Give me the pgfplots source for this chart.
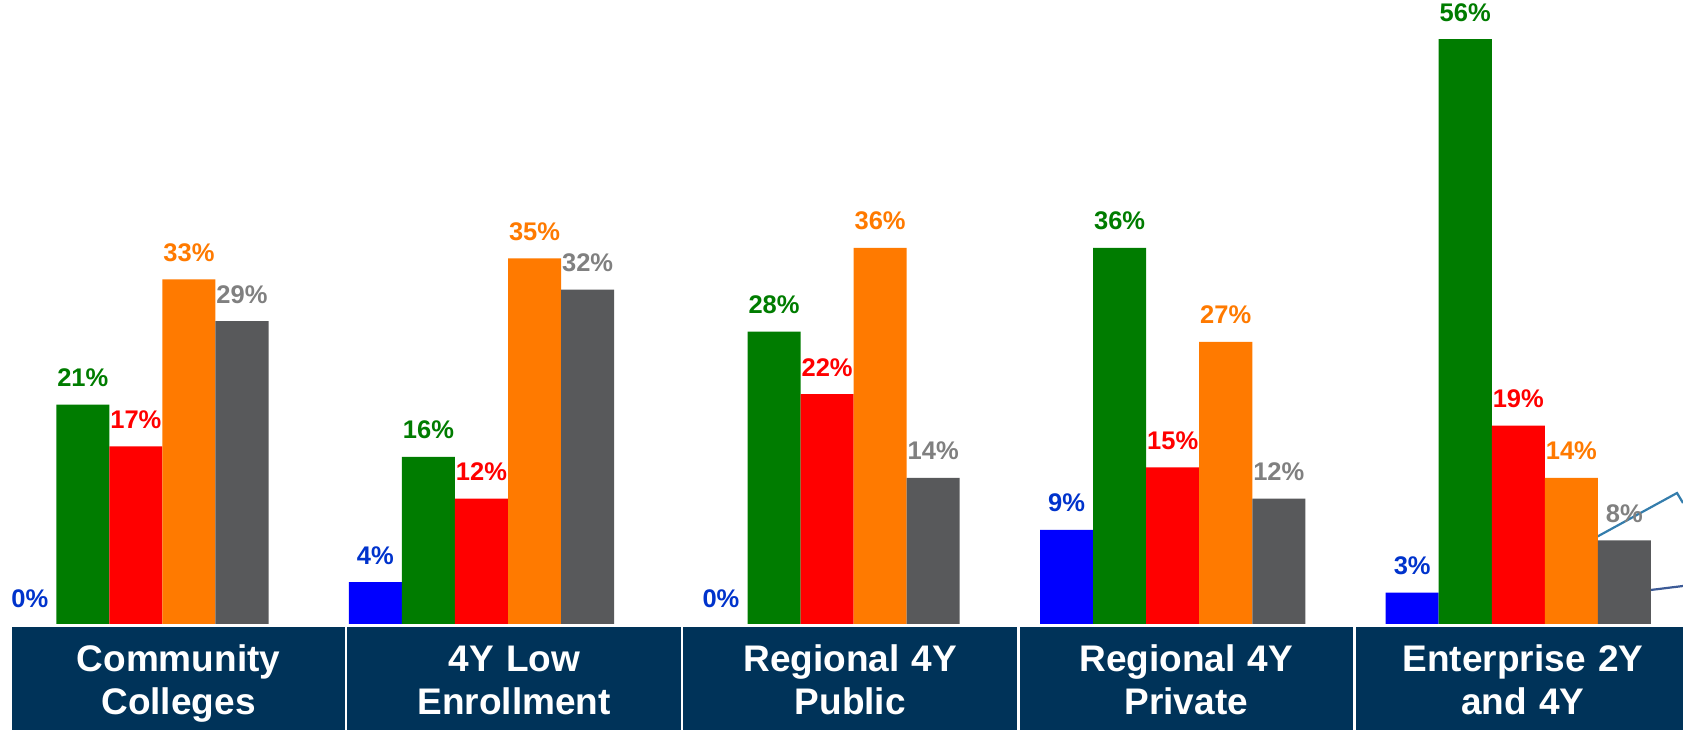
\documentclass[border=0pt]{standalone}
\usepackage{fontspec}
\setmainfont{Liberation Sans}
\usepackage{pgfplots}
\pgfplotsset{compat=1.18}
\definecolor{cblue}{RGB}{0,0,255}
\definecolor{cgreen}{RGB}{0,124,0}
\definecolor{cred}{RGB}{255,0,0}
\definecolor{corange}{RGB}{255,122,0}
\definecolor{cgray}{RGB}{88,89,91}
\definecolor{lblue}{RGB}{0,51,204}
\definecolor{lgray}{RGB}{128,128,128}
\definecolor{navy}{RGB}{0,51,89}
\definecolor{steel}{RGB}{52,125,172}
\definecolor{dkline}{RGB}{60,90,150}
\newcommand\Ta{\rule{0pt}{44pt}}
\newcommand\Tb{\rule[-16pt]{0pt}{16pt}}
\begin{document}
\begin{tikzpicture}[x=1pt,y=1pt]
\draw[steel, line width=2.2pt] (1560,173) -- (1677,237) -- (1683,227);
\draw[dkline, line width=2.2pt] (1610,135) -- (1683,144);
\begin{axis}[
  at={(0,0)}, anchor=south west,
  scale only axis, width=1683pt, height=730pt,
  xmin=-0.3932, xmax=4.4766, ymin=-10.147, ymax=59.735,
  axis line style={draw=none},
  ytick=\empty,
  xtick={0.12326,1.0949,2.0671,3.0394,4.0136},
  xticklabels={{\Ta Community\\Colleges\Tb},{\Ta 4Y Low\\Enrollment\Tb},{\Ta Regional 4Y\\Public\Tb},{\Ta Regional 4Y\\Private\Tb},{\Ta Enterprise 2Y\\and 4Y\Tb}},
  major tick length=0pt,
  xticklabel style={anchor=north, yshift=103pt, fill=navy, text=white, inner sep=0pt, text width=333.6pt, minimum height=103pt, align=center, font=\fontsize{37}{43}\selectfont\bfseries},
  ybar, bar width=0.15353,
  nodes near coords={\pgfmathprintnumber{\pgfplotspointmeta}\%},
  every node near coord/.append style={font=\fontsize{25.5}{30}\selectfont\bfseries, anchor=base, yshift=18pt, inner sep=0pt},
  /pgf/number format/assume math mode=true,
  clip=false,
]
\addplot[fill=cblue, draw=none, bar shift=-0.30706, every node near coord/.append style={text=lblue}]
  coordinates {(1,4) (3,9) (4,3)};
\addplot[fill=none, draw=none, bar shift=-0.30706, every node near coord/.append style={text=lblue, yshift=-1.5pt}]
  coordinates {(0,0) (2,0)};
\addplot[fill=cgreen, draw=none, bar shift=-0.15353, every node near coord/.append style={text=cgreen}]
  coordinates {(0,21) (1,16) (2,28) (3,36) (4,56)};
\addplot[fill=cred, draw=none, bar shift=0, every node near coord/.append style={text=cred}]
  coordinates {(0,17) (1,12) (2,22) (3,15) (4,19)};
\addplot[fill=corange, draw=none, bar shift=0.15353, every node near coord/.append style={text=corange}]
  coordinates {(0,33) (1,35) (2,36) (3,27) (4,14)};
\addplot[fill=cgray, draw=none, bar shift=0.30706, every node near coord/.append style={text=lgray}]
  coordinates {(0,29) (1,32) (2,14) (3,12) (4,8)};
\end{axis}
\pgfresetboundingbox
\path[use as bounding box] (0,0) rectangle (1683,730);
\end{tikzpicture}
\end{document}
